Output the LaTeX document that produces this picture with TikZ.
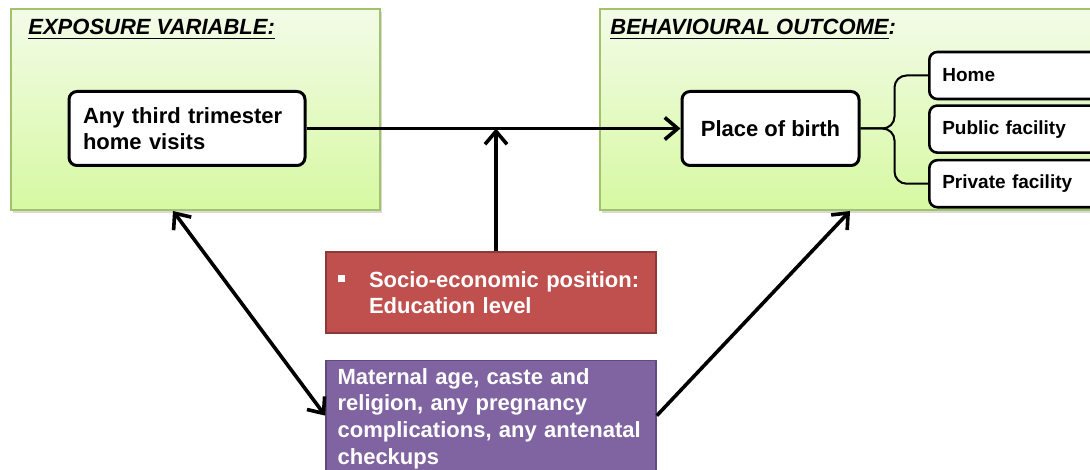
\documentclass[tikz,border=0pt]{standalone}
\usepackage{fontspec}
\setmainfont{Liberation Sans}
\usepackage{xcolor}
\usetikzlibrary{positioning,arrows.meta,shadows}
\definecolor{cgline}{RGB}{163,195,107}
\definecolor{cgtop}{RGB}{243,251,232}
\definecolor{cgbot}{RGB}{214,249,162}
\definecolor{cred}{RGB}{192,80,77}
\definecolor{credd}{RGB}{140,58,56}
\definecolor{cpurp}{RGB}{128,100,162}
\definecolor{cpurpd}{RGB}{96,76,124}

\begin{document}
\begin{tikzpicture}[
  x=0.5pt,y=-0.5pt,
  font=\bfseries\fontsize{11}{13}\selectfont,
  panel/.style={draw=cgline,line width=1pt,top color=cgtop,bottom color=cgbot,minimum height=100.5pt,
    drop shadow={opacity=0.3,shadow xshift=1pt,shadow yshift=-1.5pt}},
  ttl/.style={anchor=base west,inner sep=0pt,font=\bfseries\itshape\fontsize{11}{13}\selectfont},
  varbox/.style={draw,line width=1.5pt,rounded corners=4pt,fill=white,minimum height=37pt},
  optbox/.style={draw,line width=1.3pt,rounded corners=4pt,fill=white,minimum height=23.5pt,minimum width=88pt,
    anchor=west,inner xsep=6.5pt,text width=75pt,align=left,font=\bfseries\fontsize{9.5}{11}\selectfont},
  conf/.style={line width=0.8pt,text=white,minimum width=165pt},
  link/.style={line width=1.8pt,-{Straight Barb[length=6.5pt,width=11pt]}},
]
\useasboundingbox (0,0) rectangle (1090,470);
\clip (0,0) rectangle (1090,470);

% the two panels
\node[panel,minimum width=184.5pt] (expo) at (195.5,109.5) {};
\node[panel,minimum width=250pt] (outc) at (850,109.5) {};
\node[ttl] (expottl) at (28,35) {\underline{EXPOSURE VARIABLE:}};
\node[ttl] (outcttl) at (610,35) {\underline{BEHAVIOURAL OUTCOME}:};

% exposure and outcome
\node[varbox,minimum width=118pt,text width=104pt,align=left,inner xsep=7pt] (visit) at (187,128.5) {Any third trimester\\home visits};
\node[varbox,minimum width=88.5pt] (birth) at (770.5,128.5) {Place of birth};

% places of birth
\node[optbox] (home) at (928,75.5) {Home};
\node[optbox,below=2pt of home] (pub) {Public facility};
\node[optbox,below=2.5pt of pub] (priv) {Private facility};
\coordinate (fork) at ([xshift=17pt]birth.east);
\draw[line width=1pt,rounded corners=6pt] (home.west) -| (fork) -- (birth.east);
\draw[line width=1pt,rounded corners=6pt] (priv.west) -| (fork) -- (birth.east);

% confounders
\node[conf,draw=credd,fill=cred,minimum height=40.5pt,text width=153pt,align=left,inner xsep=6pt] (ses) at (491,292.5)
  {\rule[2.5pt]{3.5pt}{3.5pt}\hspace{12pt}Socio-economic position:\\\hspace*{15.5pt}Education level};
\node[conf,draw=cpurpd,fill=cpurp,minimum height=55pt,below=13pt of ses] (mat) {};
\node[anchor=north west,text=white,text width=160pt,align=left,inner sep=0pt,
  font=\bfseries\fontsize{11}{13.35}\selectfont] (mattxt) at ([xshift=6pt,yshift=-4pt]mat.north west)
  {Maternal age, caste and\\religion, any pregnancy\\complications, any antenatal\\checkups};

% arrows
\coordinate (expofoot) at ([xshift=-11.25pt]expo.south);
\coordinate (outcfoot) at (outc.south);
\draw[link] (visit.east) -- (birth.west);
\draw[link] ([xshift=2.5pt]ses.north) -- ([xshift=2.5pt]ses.north |- visit.east);
\draw[link,{Straight Barb[length=6.5pt,width=11pt]}-{Straight Barb[length=6.5pt,width=11pt]}] (mat.west) -- (expofoot);
\draw[link] (mat.east) -- (outcfoot);
\end{tikzpicture}
\end{document}
